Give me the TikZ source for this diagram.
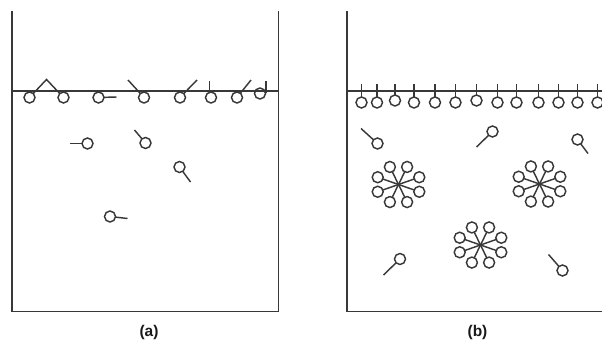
\documentclass[tikz,border=0pt]{standalone}
\usepackage{fontspec}
\setmainfont{Liberation Sans}
\usetikzlibrary{calc}

\begin{document}
\begin{tikzpicture}[x=1pt, y=-1pt, line width=1.45pt, color=black!78]
	\clip (0,0) rectangle (602,347);
	\tikzstyle{head}=[circle, draw, minimum size=11pt, inner sep=0pt, outer sep=0pt]
	\tikzstyle{wall}=[line width=1.7pt]
	\tikzstyle{caption}=[font=\fontsize{15.5}{17}\selectfont\bfseries, text=black!90]
	%% container (a)
	\draw [wall] (12,11) -- (12,311.5) -- (278.5,311.5) -- (278.5,11);
	\draw (12,91) -- (278.5,91);
	%% container (b), right wall cut off
	\draw [wall] (347,11) -- (347,311.5) -- (602,311.5);
	\draw (347,91) -- (602,91);
	
	%% (a) molecules at the surface
	\node (a1) at (29.5,97.5) [head] {};
	\node (a2) at (63.5,97.5) [head] {};
	\node (a3) at (98.5,97.5) [head] {};
	\node (a4) at (144,97.5) [head] {};
	\node (a5) at (180,97.5) [head] {};
	\node (a6) at (211,97.5) [head] {};
	\node (a7) at (237,97.5) [head] {};
	\node (a8) at (260,93.5) [head] {};
	\coordinate (apex) at (46.5,79.5);
	\coordinate (a3t) at (116.5,97);
	\coordinate (a4t) at (128,80);
	\coordinate (a5t) at (197,80);
	\coordinate (a6t) at (209.5,81.5);
	\coordinate (a7t) at (251,80);
	\coordinate (a8t) at (266,81.5);
	\draw (a1) -- (apex) -- (a2);
	\draw (a3) -- (a3t);
	\draw (a4) -- (a4t);
	\draw (a5) -- (a5t);
	\draw (a6t) -- (a6t |- a6.north);
	\draw (a7) -- (a7t);
	\draw (a8t) -- (a8t |- a8.east);
	
	%% (a) molecules in the bulk
	\node (a9) at (87.5,143.5) [head] {};
	\node (a10) at (145.5,143) [head] {};
	\node (a11) at (179.5,167) [head] {};
	\node (a12) at (110,216.5) [head] {};
	\coordinate (a9t) at (70,143.5);
	\coordinate (a10t) at (134.5,130);
	\coordinate (a11t) at (190.5,182);
	\coordinate (a12t) at (127.5,218.5);
	\draw (a9) -- (a9t);
	\draw (a10) -- (a10t);
	\draw (a11) -- (a11t);
	\draw (a12) -- (a12t);
	
	%% (b) full surface layer
	\foreach \x/\y [count=\i] in {361.5/102.5, 377/102.5, 395/100.5, 414/102.5, 435/102.5, 455.5/102.5, 476.5/100.5, 497.5/102.5, 516.5/102.5, 538.5/102.5, 558.5/102.5, 577.5/102.5, 597.5/102.5} {
		\node (s\i) at (\x,\y) [head] {};
		\coordinate (t\i) at (\x,84);
		\draw (s\i) -- (t\i);
	}
	
	%% (b) micelles
	\foreach \m/\cx/\cy in {m1/398.5/184.5, m2/539.5/184, m3/480.5/245} {
		\coordinate (\m) at (\cx,\cy);
		\foreach \k in {0,...,7} {
			\node (\m h\k) at ($(\m)+({22.5*cos(22.5+45*\k)},{-19*sin(22.5+45*\k)})$) [head] {};
			\draw (\m h\k) -- (\m);
		}
	}
	
	%% (b) free molecules
	\node (b1) at (377.5,143.5) [head] {};
	\node (b2) at (492.5,131.5) [head] {};
	\node (b3) at (577.5,139.5) [head] {};
	\node (b4) at (400,259) [head] {};
	\node (b5) at (562.5,270.5) [head] {};
	\coordinate (b1t) at (361,128.5);
	\coordinate (b2t) at (476.5,147);
	\coordinate (b3t) at (588,153.5);
	\coordinate (b4t) at (383.5,275);
	\coordinate (b5t) at (548.5,254.5);
	\draw (b1) -- (b1t);
	\draw (b2) -- (b2t);
	\draw (b3) -- (b3t);
	\draw (b4) -- (b4t);
	\draw (b5) -- (b5t);
	
	\node (capa) at (149,332) [caption] {(a)};
	\node (capb) at (477.5,332) [caption] {(b)};
\end{tikzpicture}
\end{document}
